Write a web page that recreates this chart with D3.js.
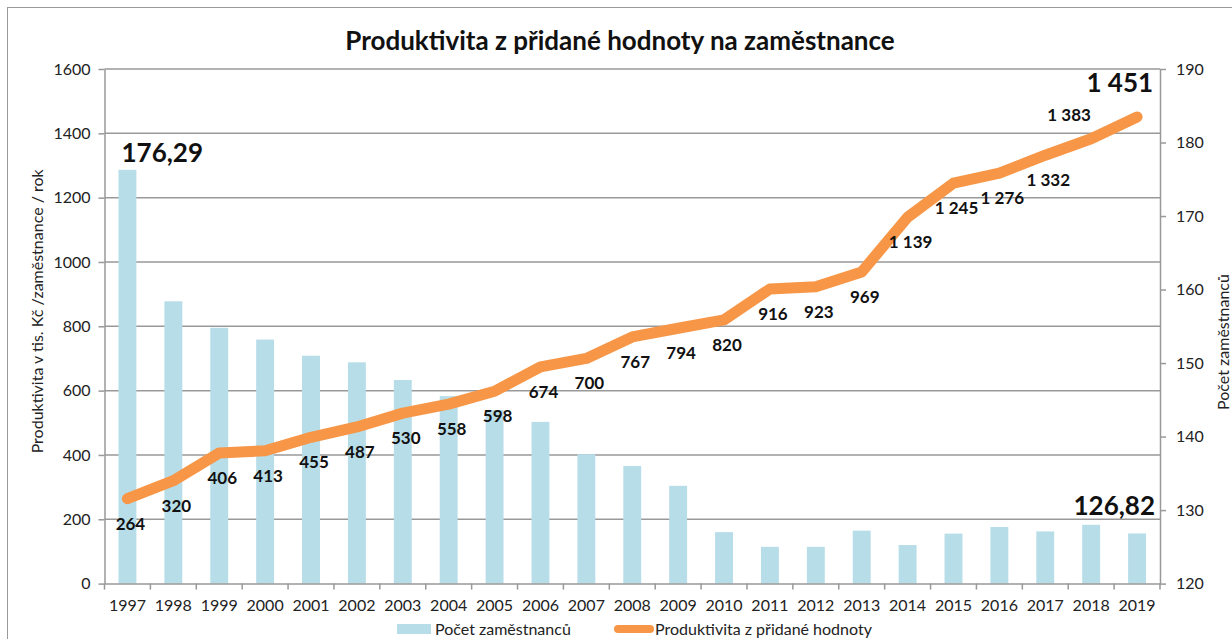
<!DOCTYPE html>
<head>
  <meta charset="utf-8">
  <style>
    body { margin: 0; background: #fff; }
    svg { display: block; font-family: Lato, "Open Sans", sans-serif; }
  </style>
  <script src="https://cdn.jsdelivr.net/npm/d3@7"></script>
</head>
<body>
<div id="chart"></div>
<script>
// data
const years = ['1997','1998','1999','2000','2001','2002','2003','2004','2005','2006','2007','2008',
  '2009','2010','2011','2012','2013','2014','2015','2016','2017','2018','2019']
// počet zaměstnanců (right axis)
const employees = [176.29, 158.4, 154.8, 153.2, 151.0, 150.1, 147.7, 145.5, 143.6, 142.0, 137.6, 136.0,
  133.3, 127.0, 125.0, 125.0, 127.2, 125.25, 126.8, 127.7, 127.1, 128.0, 126.82]
// produktivita v tis. Kč (left axis)
const productivity = [264, 320, 406, 413, 455, 487, 530, 558, 598, 674, 700, 767,
  794, 820, 916, 923, 969, 1139, 1245, 1276, 1332, 1383, 1451]
const leftTicks = [0, 200, 400, 600, 800, 1000, 1200, 1400, 1600]
const rightTicks = [120, 130, 140, 150, 160, 170, 180, 190]

const W = 1232, H = 639
const m = { left: 104.5, right: 1160, top: 69, bottom: 583.6 }
const gridColor = '#999'
const barColor = '#b7dde8'
const lineColor = '#f79646'

const svg = d3.select('#chart').append('svg')
  .attr('width', W).attr('height', H)
  .attr('viewBox', [0, 0, W, H])

// outer frame
svg.append('rect')
  .attr('x', 7.5).attr('y', 7.5).attr('width', W).attr('height', H)
  .attr('fill', 'none').attr('stroke', '#999')

const x = d3.scaleBand().domain(years).range([m.left, m.right]).padding(0)
const y1 = d3.scaleLinear().domain([0, 1600]).range([m.bottom, m.top])
const y2 = d3.scaleLinear().domain([120, 190]).range([m.bottom, m.top])
const bw = x.bandwidth() * 0.39
const cx = d => x(d) + x.bandwidth() / 2

// title
svg.append('text')
  .attr('x', 620).attr('y', 50)
  .attr('text-anchor', 'middle')
  .attr('font-size', 26).attr('font-weight', 'bold').attr('fill', '#111')
  .text('Produktivita z přidané hodnoty na zaměstnance')

// gridlines
svg.append('g')
  .selectAll('line')
  .data(leftTicks.filter(d => d > 0))
  .join('line')
    .attr('x1', m.left).attr('x2', m.right)
    .attr('y1', d => y1(d)).attr('y2', d => y1(d))
    .attr('stroke', gridColor).attr('stroke-width', 1.5)

// bars
svg.append('g')
  .selectAll('rect')
  .data(years)
  .join('rect')
    .attr('x', d => cx(d) - bw / 2)
    .attr('width', bw)
    .attr('y', (d, i) => y2(employees[i]))
    .attr('height', (d, i) => m.bottom - y2(employees[i]))
    .attr('fill', barColor)

// axes
const styleAxis = g => {
  g.select('.domain').attr('stroke', gridColor).attr('stroke-width', 1.5)
  g.selectAll('.tick line').attr('stroke', gridColor).attr('stroke-width', 1.5)
  g.selectAll('.tick text').attr('fill', '#222').attr('font-size', 16)
    .attr('font-family', 'Lato, "Open Sans", sans-serif')
}
svg.append('g')
  .attr('transform', `translate(${m.left},0)`)
  .call(d3.axisLeft(y1).tickValues(leftTicks).tickFormat(d3.format('d'))
    .tickSize(6).tickPadding(8).tickSizeOuter(0))
  .call(styleAxis)
svg.append('g')
  .attr('transform', `translate(${m.right},0)`)
  .call(d3.axisRight(y2).tickValues(rightTicks).tickSize(6).tickPadding(10).tickSizeOuter(0))
  .call(styleAxis)
const xAxis = svg.append('g')
  .attr('transform', `translate(0,${m.bottom})`)
  .call(d3.axisBottom(x).tickSize(0).tickPadding(16).tickSizeOuter(0))
  .call(styleAxis)
// category separators ticks
xAxis.selectAll('.sep')
  .data(d3.range(years.length + 1))
  .join('line')
    .attr('x1', i => m.left + i * x.step()).attr('x2', i => m.left + i * x.step())
    .attr('y1', 0).attr('y2', 6)
    .attr('stroke', gridColor).attr('stroke-width', 1.5)

// axis titles
svg.append('text')
  .attr('transform', `translate(43,${(m.top + m.bottom) / 2 - 15}) rotate(-90)`)
  .attr('text-anchor', 'middle')
  .attr('font-size', 16).attr('fill', '#222')
  .text('Produktivita v tis. Kč /zaměstnance / rok')
svg.append('text')
  .attr('transform', `translate(1229,342) rotate(-90)`)
  .attr('text-anchor', 'middle')
  .attr('font-size', 16).attr('fill', '#222')
  .text('Počet zaměstnanců')

// line
const line = d3.line()
  .x((d, i) => cx(years[i]))
  .y(d => y1(d))
svg.append('path')
  .datum(productivity)
  .attr('d', line)
  .attr('fill', 'none')
  .attr('stroke', lineColor)
  .attr('stroke-width', 11)
  .attr('stroke-linejoin', 'round')
  .attr('stroke-linecap', 'round')

// line labels
const fmt = v => d3.format(',')(v).replace(',', ' ')
const last = productivity.length - 1
svg.append('g')
  .selectAll('text')
  .data(productivity.slice(0, last - 1))
  .join('text')
    .attr('x', (d, i) => cx(years[i]) + 3)
    .attr('y', d => y1(d) + 31)
    .attr('text-anchor', 'middle')
    .attr('font-size', 17).attr('font-weight', 'bold').attr('fill', '#111')
    .text(fmt)
svg.append('text')
  .attr('x', cx(years[last - 1]) - 22)
  .attr('y', y1(productivity[last - 1]) - 18)
  .attr('text-anchor', 'middle')
  .attr('font-size', 17).attr('font-weight', 'bold').attr('fill', '#111')
  .text(fmt(productivity[last - 1]))
svg.append('text')
  .attr('x', cx(years[last]) + 16)
  .attr('y', y1(productivity[last]) - 25)
  .attr('text-anchor', 'end')
  .attr('font-size', 26).attr('font-weight', 'bold').attr('fill', '#111')
  .text(fmt(productivity[last]))

// bar labels (first and last)
const fmtDec = v => d3.format('.2f')(v).replace('.', ',')
svg.append('text')
  .attr('x', cx(years[0]) - bw / 2 + 3)
  .attr('y', y2(employees[0]) - 8)
  .attr('font-size', 26).attr('font-weight', 'bold').attr('fill', '#111')
  .text(fmtDec(employees[0]))
svg.append('text')
  .attr('x', cx(years[last]) + bw / 2 + 9)
  .attr('y', y2(employees[last]) - 18)
  .attr('text-anchor', 'end')
  .attr('font-size', 26).attr('font-weight', 'bold').attr('fill', '#111')
  .text(fmtDec(employees[last]))

// legend
const lg = svg.append('g').attr('font-size', 16).attr('fill', '#222')
lg.append('rect').attr('x', 397).attr('y', 624).attr('width', 34).attr('height', 10).attr('fill', barColor)
lg.append('text').attr('x', 435).attr('y', 635).text('Počet zaměstnanců')
lg.append('line').attr('x1', 618).attr('x2', 650).attr('y1', 629).attr('y2', 629)
  .attr('stroke', lineColor).attr('stroke-width', 8).attr('stroke-linecap', 'round')
lg.append('text').attr('x', 655).attr('y', 635).text('Produktivita z přidané hodnoty')
</script>
</body>
